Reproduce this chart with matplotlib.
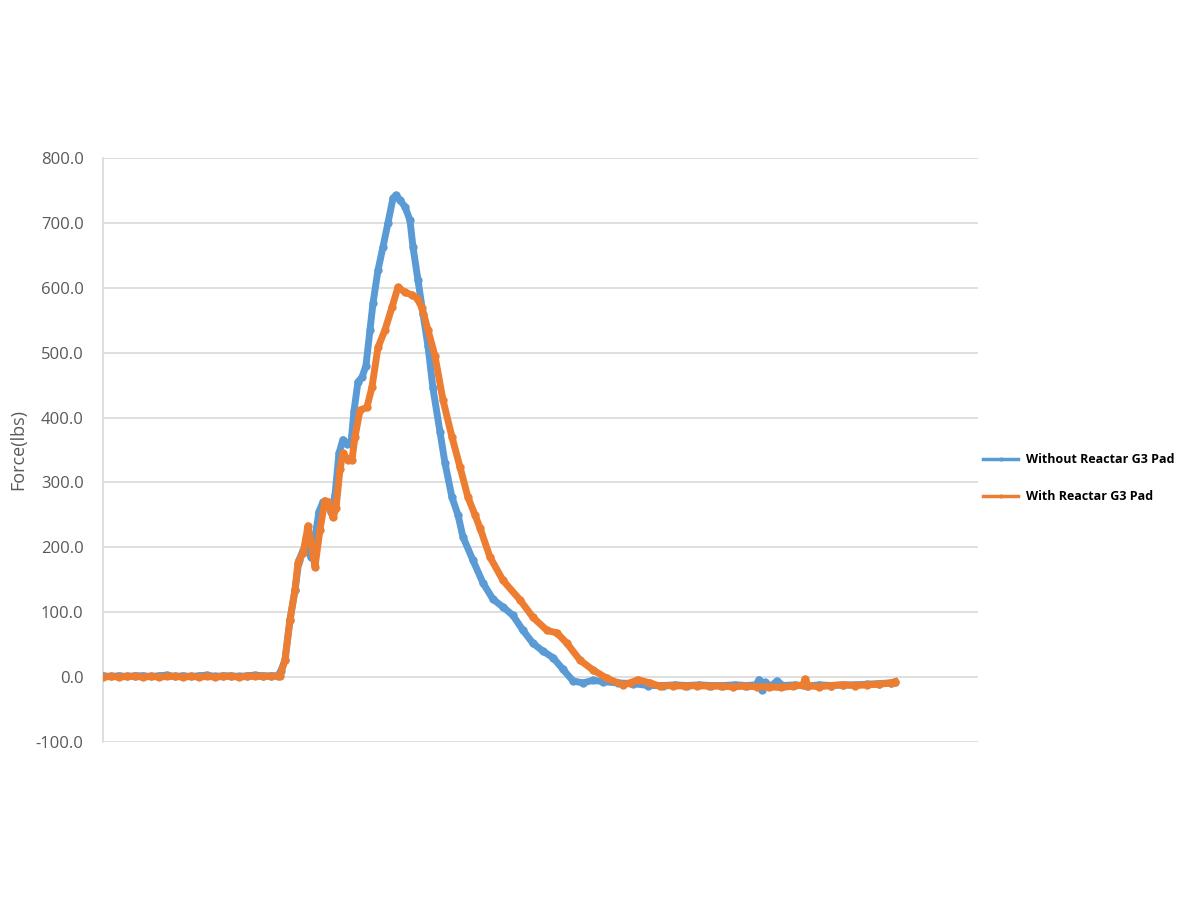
import matplotlib.pyplot as plt

# series (sample index, force in lbs)
t_without = [0, 8, 16, 24, 32, 40, 48, 56, 64, 72, 80, 88, 96, 104, 112, 120, 128, 136, 144, 152, 160, 168,
             175, 178, 182, 187, 192, 196, 200, 204, 208, 212, 216, 220, 224, 228, 232, 236, 240, 244, 248,
             251, 255, 259, 263, 267, 270, 275, 280, 285, 290, 293, 297, 302, 307, 310, 315, 320, 325, 330,
             337, 342, 349, 355, 360, 370, 380, 390, 400, 410, 420, 430, 440, 450, 460, 470, 480, 490, 500,
             515, 530, 545, 560, 572, 584, 596, 608, 620, 632, 644, 653, 656, 659, 662, 668, 674, 680, 692,
             704, 716, 728, 740, 752, 764, 776, 788, 792]
f_without = [2, 1, 2, 1, 2, 2, 1, 2, 3, 1, 2, 1, 2, 3, 1, 2, 2, 1, 2, 3, 2, 2,
             2, 10, 26, 88, 134, 180, 195, 205, 185, 215, 255, 270, 268, 255, 280, 345, 366, 360, 360,
             410, 455, 462, 480, 535, 576, 627, 663, 700, 738, 743, 735, 725, 704, 663, 612, 560, 510, 445,
             378, 330, 277, 250, 216, 180, 145, 120, 108, 95, 72, 52, 40, 30, 12, -6, -9, -5, -7,
             -9, -10, -13, -13, -12, -13, -12, -13, -13, -12, -13, -12, -4, -20, -8, -14, -6, -13, -12,
             -14, -12, -13, -12, -12, -11, -10, -9, -8]

t_with = [0, 8, 16, 24, 32, 40, 48, 56, 64, 72, 80, 88, 96, 104, 112, 120, 128, 136, 144, 152, 160, 168,
          177, 182, 187, 192, 195, 200, 203, 205, 209, 212, 217, 222, 225, 230, 233, 237, 240, 245, 249,
          252, 257, 264, 269, 275, 282, 289, 295, 302, 309, 314, 319, 325, 332, 340, 349, 357, 365, 372,
          377, 387, 400, 417, 430, 444, 454, 464, 477, 490, 504, 520, 527, 535, 547, 557, 570, 582, 594,
          606, 618, 630, 642, 654, 666, 678, 690, 700, 702, 705, 716, 728, 740, 752, 764, 776, 788, 792]
f_with = [0, 1, 0, 1, 1, 0, 1, 0, 1, 1, 0, 1, 0, 1, 0, 1, 1, 0, 1, 1, 1, 1,
          2, 26, 88, 134, 176, 191, 215, 233, 200, 170, 227, 272, 270, 246, 260, 320, 345, 335, 335,
          370, 411, 416, 447, 508, 535, 570, 601, 593, 589, 584, 569, 535, 495, 427, 370, 324, 277, 250,
          230, 185, 149, 119, 92, 72, 68, 52, 26, 11, -2, -12, -9, -4, -9, -14, -13, -14, -13,
          -14, -14, -15, -14, -15, -15, -16, -14, -12, -3, -13, -15, -13, -12, -13, -12, -11, -9, -7]

plt.rcParams["font.family"] = ["Open Sans", "DejaVu Sans"]

fig = plt.figure(figsize=(12, 9), dpi=100)
ax = fig.add_axes([0.0858, 0.1756, 0.7292, 0.6488])

ax.plot(t_without, f_without, color="#5B9BD5", lw=5, marker="o", ms=6, mew=0,
        label="Without Reactar G3 Pad", zorder=3)
ax.plot(t_with, f_with, color="#ED7D31", lw=5, marker="o", ms=6, mew=0,
        label="With Reactar G3 Pad", zorder=4)

ax.set_xlim(0, 875)
ax.set_ylim(-100, 800)
ax.set_yticks(range(-100, 801, 100))
ax.set_yticklabels([f"{v:.1f}" for v in range(-100, 801, 100)], color="#595959", fontsize=12)
ax.set_xticks([])
ax.tick_params(axis="y", length=0, pad=14)
ax.grid(axis="y", color="#d9d9d9", lw=1.2)
ax.set_axisbelow(True)
for s in ["top", "right", "bottom"]:
    ax.spines[s].set_visible(False)
ax.spines["left"].set_color("#d9d9d9")
ax.spines["left"].set_linewidth(1.2)

ax.set_ylabel("Force(lbs)", color="#595959", fontsize=13, labelpad=6)

leg = ax.legend(loc="center left", bbox_to_anchor=(0.993, 0.452), frameon=False,
                prop={"weight": "bold", "size": 9}, handlelength=2.8, labelspacing=1.9,
                handletextpad=0.6, markerscale=0.5)
for h in leg.get_lines():
    h.set_linewidth(2.5)

fig.savefig("out.png", dpi=100)
